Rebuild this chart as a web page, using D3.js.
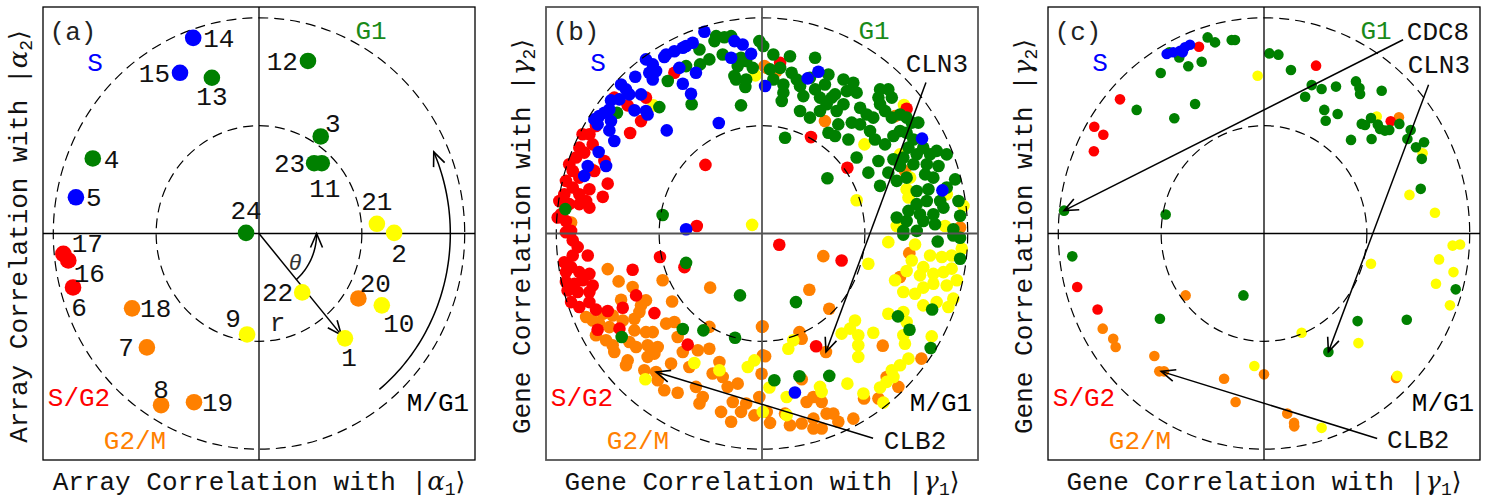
<!DOCTYPE html>
<html>
<head>
<meta charset="utf-8">
<script src="https://cdn.jsdelivr.net/npm/d3@7"></script>
<style>
body { margin: 0; background: #fff; }
text { font-family: "Liberation Mono", "DejaVu Sans Mono", monospace; }
</style>
</head>
<body>
<script>
// ---- data -----------------------------------------------------------

var phases = ["G1", "S", "S/G2", "G2/M", "M/G1"];
var phaseColors = ["#008000", "#0000ff", "#ff0000", "#ff8000", "#ffff00"];

// panel (a): arrays
var arrayIds   = ["1","2","3","4","5","6","7","8","9","10","11","12","13","14","15","16","17","18","19","20","21","22","23","24"];
var arrayCorr1 = [0.418,0.657,0.30,-0.808,-0.89,-0.904,-0.545,-0.476,-0.058,0.597,0.305,0.238,-0.229,-0.32,-0.384,-0.927,-0.951,-0.617,-0.316,0.483,0.573,0.21,0.268,-0.063];
var arrayCorr2 = [-0.486,0.003,0.45,0.348,0.168,-0.25,-0.528,-0.796,-0.468,-0.333,0.326,0.80,0.722,0.907,0.745,-0.125,-0.094,-0.347,-0.782,-0.301,0.045,-0.273,0.326,0.003];
var arrayPhase = ["M/G1","M/G1","G1","G1","S","S/G2","G2/M","G2/M","M/G1","M/G1","G1","G1","G1","S","S","S/G2","S/G2","G2/M","G2/M","G2/M","M/G1","M/G1","G1","G1"];

// panel (b): all genes, [corr with gamma1, corr with gamma2]
var genesG2M = [[-0.823,0.295],[-0.928,0.051],[0.012,0.776],[0.023,0.768],[0.071,0.753],[0.306,0.521],[0.647,0.544],[0.695,0.29],[0.668,0.329],[0.963,0.028],
  [-0.75,-0.165],[-0.697,-0.222],[-0.629,-0.248],[-0.564,-0.31],[-0.588,-0.333],[-0.685,-0.307],[-0.726,-0.38],[-0.774,-0.372],[-0.855,-0.387],[-0.823,-0.403],
  [-0.791,-0.418],[-0.742,-0.434],[-0.677,-0.403],[-0.62,-0.395],[-0.596,-0.364],[-0.483,-0.217],[-0.437,-0.315],[-0.252,-0.251],[-0.807,-0.472],[-0.758,-0.495],
  [-0.726,-0.518],[-0.718,-0.549],[-0.645,-0.503],[-0.612,-0.526],[-0.556,-0.518],[-0.507,-0.526],[-0.564,-0.457],[-0.531,-0.457],[-0.62,-0.449],[-0.466,-0.418],
  [-0.426,-0.41],[-0.41,-0.48],[-0.653,-0.588],[-0.661,-0.611],[-0.556,-0.572],[-0.523,-0.557],[-0.442,-0.603],[-0.385,-0.549],[-0.312,-0.541],[-0.256,-0.534],
  [-0.207,-0.596],[-0.353,-0.619],[-0.572,-0.634],[-0.507,-0.68],[-0.475,-0.727],[-0.41,-0.738],[-0.321,-0.711],[-0.288,-0.758],[-0.304,-0.788],[-0.24,-0.649],
  [-0.191,-0.665],[-0.167,-0.711],[-0.118,-0.696],[-0.142,-0.781],[-0.077,-0.788],[-0.037,-0.843],[-0.102,-0.827],[-0.199,-0.827],[-0.15,-0.873],[-0.013,-0.758],
  [0.0,-0.433],[0.004,-0.565],[-0.256,-0.433],[-0.515,-0.642],
  [0.298,-0.105],[0.23,-0.261],[0.327,-0.349],[0.003,-0.43],[0.182,-0.457],[0.193,-0.488],[0.311,-0.549],[0.015,-0.569],[-0.002,-0.65],[0.193,-0.676],
  [0.587,-0.52],[0.775,-0.58],[0.716,-0.091],[0.671,-0.202],[0.663,-0.711],[0.606,-0.665],[0.566,-0.765],[0.217,-0.781],[0.25,-0.758],[0.29,-0.781],
  [0.023,-0.827],[0.039,-0.878],[0.136,-0.889],[0.193,-0.881],[0.25,-0.858],[0.25,-0.904],[0.29,-0.904],[0.314,-0.835],[0.371,-0.873],[0.444,-0.858],
  [0.347,-0.835],[0.496,-0.765],[0.112,-0.835]];
var genesMG1 = [[-0.528,0.594],[-0.032,0.733],[-0.048,0.04],[0.69,0.596],[0.498,0.413],[0.671,0.367],[0.72,0.259],[0.703,0.205],[0.712,0.167],[0.46,0.154],
  [0.898,0.182],[0.979,0.128],[0.655,0.035],[0.89,0.035],[-0.567,-0.676],[-0.329,-0.6],[-0.207,-0.634],[-0.069,-0.619],[-0.037,-0.588],[0.004,-0.827],
  [0.614,-0.04],[0.744,-0.051],[0.817,-0.102],[0.874,-0.109],[0.922,-0.102],[0.971,-0.071],[0.728,-0.125],[0.784,-0.156],[0.703,-0.174],[0.647,-0.217],
  [0.768,-0.194],[0.833,-0.187],[0.882,-0.179],[0.922,-0.163],[0.947,-0.217],[0.898,-0.241],[0.833,-0.233],[0.784,-0.251],[0.687,-0.271],[0.744,-0.279],
  [0.849,-0.318],[0.93,-0.302],[0.906,-0.341],[0.784,-0.333],[0.614,-0.372],[0.687,-0.364],[0.703,-0.41],[0.452,-0.403],[0.428,-0.441],[0.387,-0.464],
  [0.468,-0.472],[0.541,-0.46],[0.468,-0.518],[0.468,-0.572],[0.695,-0.511],[0.687,-0.472],[0.825,-0.477],[0.152,-0.495],[0.128,-0.534],[0.517,-0.14],
  [0.712,-0.58],[0.671,-0.611],[0.631,-0.634],[0.639,-0.665],[0.606,-0.688],[0.574,-0.714],[0.59,-0.784],[0.493,-0.742],[0.415,-0.696],[0.282,-0.711],
  [0.29,-0.734],[0.12,-0.758],[0.036,-0.714],[0.12,-0.842]];
var genesSG2 = [[-0.426,0.745],[-0.564,0.63],[-0.653,0.594],[-0.718,0.63],[-0.588,0.521],[-0.641,0.466],[-0.807,0.498],[-0.839,0.46],[-0.872,0.46],[-0.823,0.413],
  [-0.888,0.398],[-0.864,0.375],[-0.904,0.352],[-0.937,0.321],[-0.92,0.29],[-0.888,0.259],[-0.953,0.244],[-0.92,0.213],[-0.888,0.182],[-0.961,0.182],
  [-0.985,0.151],[-0.937,0.136],[-0.888,0.136],[-0.839,0.12],[-0.977,0.089],[-0.953,0.058],[-0.993,0.074],[-0.855,0.151],[-0.839,0.205],[-0.75,0.231],
  [-0.774,0.17],[-0.766,0.336],[-0.815,0.29],[-0.275,0.318],[-0.317,0.035],[-0.928,0.012],
  [0.088,0.791],[0.238,0.447],[0.415,0.305],[0.703,0.578],
  [-0.953,0.006],[-0.92,-0.032],[-0.896,-0.063],[-0.847,-0.102],[-0.961,-0.133],[-0.92,-0.102],[-0.928,-0.156],[-0.888,-0.179],[-0.953,-0.179],[-0.839,-0.187],
  [-0.872,-0.217],[-0.953,-0.225],[-0.912,-0.233],[-0.823,-0.241],[-0.945,-0.264],[-0.896,-0.271],[-0.839,-0.271],[-0.928,-0.318],[-0.888,-0.341],[-0.839,-0.318],
  [-0.807,-0.353],[-0.75,-0.359],[-0.677,-0.344],[-0.629,-0.168],[-0.612,-0.287],[-0.523,-0.369],[-0.496,-0.109],[-0.377,-0.156],[-0.799,-0.446],[-0.693,-0.441],
  [-0.361,-0.515],[0.084,-0.052],[0.387,-0.125],[0.263,-0.523]];
var genesG1 = [[-0.499,0.586],[-0.705,0.56],[-0.458,0.707],[-0.369,0.776],[-0.301,0.784],[-0.304,0.853],[-0.256,0.807],[-0.223,0.915],[-0.183,0.91],[-0.15,0.915],
  [-0.231,0.892],[-0.191,0.83],[-0.118,0.776],[-0.077,0.8],[-0.045,0.768],[-0.102,0.815],[-0.134,0.73],[-0.077,0.714],[-0.081,0.679],[-0.126,0.714],
  [-0.102,0.594],[-0.342,0.599],[-0.483,0.086],[-0.956,0.113],[-0.013,0.892],
  [0.006,0.869],[0.055,0.83],[0.136,0.822],[0.258,0.815],[0.039,0.761],[0.088,0.768],[0.144,0.745],[0.169,0.714],[0.104,0.691],[0.055,0.714],
  [0.185,0.683],[0.233,0.722],[0.323,0.737],[0.306,0.691],[0.258,0.668],[0.104,0.653],[0.096,0.614],[0.201,0.637],[0.282,0.63],[0.339,0.63],
  [0.396,0.714],[0.444,0.699],[0.412,0.66],[0.355,0.645],[0.396,0.599],[0.46,0.653],[0.574,0.668],[0.614,0.668],[0.631,0.63],[0.566,0.63],
  [0.185,0.568],[0.233,0.537],[0.282,0.568],[0.314,0.599],[0.363,0.568],[0.477,0.583],[0.509,0.552],[0.541,0.537],[0.436,0.514],[0.477,0.506],
  [0.371,0.506],[0.323,0.467],[0.355,0.452],[0.42,0.436],[0.574,0.599],[0.598,0.568],[0.631,0.537],[0.671,0.552],[0.703,0.537],[0.728,0.514],
  [0.76,0.514],[0.525,0.475],[0.549,0.436],[0.598,0.413],[0.639,0.452],[0.671,0.475],[0.703,0.467],[0.736,0.436],[0.112,0.444],[0.566,0.336],
  [0.614,0.282],[0.639,0.344],[0.687,0.352],[0.712,0.398],[0.752,0.367],[0.784,0.398],[0.817,0.367],[0.849,0.383],[0.898,0.367],[0.671,0.313],
  [0.736,0.321],[0.801,0.321],[0.858,0.313],[0.46,0.352],[0.517,0.282],[0.655,0.244],[0.703,0.259],[0.318,0.256],[0.574,0.221],[0.793,0.274],
  [0.833,0.259],[0.939,0.251],[0.898,0.213],[0.752,0.197],[0.809,0.205],[0.866,0.151],[0.801,0.151],[0.752,0.136],[0.712,0.105],[0.768,0.089],
  [0.833,0.089],[0.655,0.074],[0.703,0.058],[0.784,0.058],[0.841,0.043],[0.955,0.151],[0.963,0.082],[0.687,0.012],[0.752,0.012],[0.93,0.02],[0.882,0.12],
  [-0.369,-0.136],[-0.107,-0.287],[-0.385,-0.443],[-0.285,-0.449],[-0.131,-0.483],[-0.682,-0.48],
  [0.165,-0.318],[0.06,-0.68],[0.182,-0.662],[0.327,-0.66],[0.661,-0.384],[0.717,-0.446],[0.82,-0.531],[0.827,-0.352],[0.963,-0.117],[0.854,-0.037],
  [0.687,-0.005],[0.93,-0.009],[0.963,-0.02]];
var genesS = [[-0.28,0.935],[-0.337,0.884],[-0.385,0.861],[-0.426,0.845],[-0.466,0.83],[-0.475,0.818],[-0.369,0.869],[-0.134,0.892],[-0.094,0.876],[-0.15,0.815],
  [-0.053,0.833],[-0.564,0.807],[-0.531,0.784],[-0.515,0.753],[-0.548,0.745],[-0.531,0.714],[-0.616,0.727],[-0.402,0.768],[-0.321,0.745],[-0.385,0.694],
  [-0.345,0.648],[-0.685,0.691],[-0.661,0.668],[-0.645,0.645],[-0.588,0.645],[-0.693,0.622],[-0.734,0.617],[-0.742,0.575],[-0.766,0.56],[-0.791,0.545],
  [-0.815,0.529],[-0.799,0.506],[-0.734,0.521],[-0.62,0.571],[-0.564,0.568],[-0.556,0.552],[-0.742,0.478],[-0.718,0.429],[-0.463,0.478],[-0.21,0.512],
  [-0.794,0.378],[-0.758,0.313],[-0.847,0.313],[-0.864,0.267],[-0.369,0.02],
  [0.015,0.684],[0.222,0.719],[0.274,0.75],[0.778,0.44],[0.877,0.2],[0.16,-0.737]];

// panel (c): cell-cycle regulators
var regG2M = [[0.656,0.539],[-0.784,-0.441],[-0.733,-0.488],[-0.721,-0.526],[-0.381,-0.287],[-0.533,-0.568],[-0.509,-0.639],[-0.486,-0.639],[-0.194,-0.673],[0,-0.653],
  [-0.138,-0.781],[0.113,-0.835],[0.146,-0.878],[0.147,-0.894],[0.642,-0.67]];
var regMG1 = [[-0.031,0.731],[0.548,0.542],[0.771,0.372],[0.707,0.179],[0.831,0.096],[0.52,-0.14],[0.851,-0.12],[0.917,-0.056],[0.953,-0.051],[0.921,-0.179],
  [0.836,-0.233],[0.904,-0.333],[0.183,-0.46],[0.459,-0.508],[-0.047,-0.614],[0.648,-0.66],[0.28,-0.901]];
var regSG2 = [[-0.316,0.866],[0.253,0.778],[-0.70,0.622],[-0.825,0.495],[-0.781,0.458],[-0.827,0.381],[0.616,0.52],[-0.908,-0.248],[-0.809,-0.352]];
var regG1 = [[-0.274,0.909],[-0.238,0.886],[-0.157,0.897],[-0.141,0.897],[-0.412,0.816],[-0.46,0.84],[-0.368,0.775],[-0.303,0.796],[-0.502,0.744],[-0.335,0.6],
  [-0.619,0.573],[-0.436,0.534],[0.026,0.835],[0.07,0.829],[0.131,0.758],[0.232,0.688],[0.28,0.67],[0.2,0.634],[0.35,0.681],[0.447,0.705],
  [0.464,0.674],[0.467,0.647],[0.572,0.662],[0.293,0.573],[0.3,0.523],[0.358,0.554],[0.423,0.434],[0.475,0.508],[0.491,0.503],[0.52,0.535],
  [0.523,0.438],[0.553,0.505],[0.564,0.485],[0.588,0.477],[0.609,0.48],[0.658,0.508],[0.713,0.48],[0.697,0.438],[0.739,0.4],[0.778,0.423],
  [0.767,0.346],[0.762,0.207],[-0.972,0.106],[-0.478,0.088],
  [-0.932,-0.106],[-0.1,-0.287],[-0.506,-0.395],[0.455,-0.406],[0.694,-0.4],[0.932,-0.259],[0.313,-0.549]];
var regS = [[-0.473,0.832],[-0.441,0.84],[-0.408,0.847],[-0.384,0.863],[-0.36,0.875],[-0.395,0.84]];

// named genes: label, label position, arrow start, arrow end
var namedB = [
  {name: "CLN3", at: [0.85, 0.79], from: [0.797, 0.70], to: [0.311, -0.549]},
  {name: "CLB2", at: [0.744, -0.958], from: [0.54, -0.949], to: [-0.515, -0.642]}
];
var namedC = [
  {name: "CDC8", at: [0.846, 0.94], from: [0.676, 0.898], to: [-0.972, 0.106]},
  {name: "CLN3", at: [0.85, 0.787], from: [0.80, 0.69], to: [0.313, -0.549]},
  {name: "CLB2", at: [0.75, -0.95], from: [0.55, -0.95], to: [-0.50, -0.639]}
];

// ---- layout ---------------------------------------------------------
var W = 432, H = 453, top0 = 7;
var lefts = [43, 546, 1048];
var fontSize = 26;

var x = d3.scaleLinear().domain([-1.05, 1.05]).range([0, W]);
var y = d3.scaleLinear().domain([-1.05, 1.05]).range([H, 0]);

var svg = d3.select("body").append("svg").attr("width", 1491).attr("height", 499);

var defs = svg.append("defs");
defs.append("marker").attr("id", "vhead")
    .attr("viewBox", "-16 -8 18 16").attr("refX", 0).attr("refY", 0)
    .attr("markerWidth", 18).attr("markerHeight", 16)
    .attr("markerUnits", "userSpaceOnUse").attr("orient", "auto")
  .append("path").attr("d", "M-14,-6L0,0L-14,6")
    .attr("fill", "none").attr("stroke", "#000").attr("stroke-width", 1.6);

// phase labels: position inside the box (px from box corner), text colour
var phaseLabels = [
  {t: "S", px: 52, py: 55, c: "#0000ff"},
  {t: "G1", px: 328, py: 23, c: "#1a8a1a"},
  {t: "S/G2", px: 36, py: 390, c: "#ff0000"},
  {t: "G2/M", px: 92, py: 433, c: "#ff8000"},
  {t: "M/G1", px: 395, py: 395, c: "#000"}
];

function colorOf(ph) { return phaseColors[phases.indexOf(ph)]; }

function arcPts(r, a0, a1) {
  return d3.range(0, 61).map(function(i) {
    var a = (a0 + (a1 - a0) * i / 60) * Math.PI / 180;
    return [x(r * Math.cos(a)), y(r * Math.sin(a))];
  });
}
var line = d3.line();

function frame(g, stroke, sw) {
  // dashed unit and half circles
  [1, 0.5].forEach(function(r) {
    g.append("ellipse")
      .attr("cx", x(0)).attr("cy", y(0))
      .attr("rx", x(r) - x(0)).attr("ry", y(0) - y(r))
      .attr("fill", "none").attr("stroke", "#000").attr("stroke-width", 1.2)
      .attr("stroke-dasharray", "10,6");
  });
  g.append("line").attr("x1", x(-1.05)).attr("x2", x(1.05)).attr("y1", y(0)).attr("y2", y(0))
    .attr("stroke", stroke).attr("stroke-width", sw);
  g.append("line").attr("x1", x(0)).attr("x2", x(0)).attr("y1", y(-1.05)).attr("y2", y(1.05))
    .attr("stroke", stroke).attr("stroke-width", sw);
  g.append("rect").attr("x", 0).attr("y", 0).attr("width", W).attr("height", H)
    .attr("fill", "none").attr("stroke", stroke).attr("stroke-width", sw);
}

function texts(g, tag, sym) {
  g.append("text").attr("x", 30).attr("y", 24).attr("dy", "0.35em")
    .attr("text-anchor", "middle").attr("font-size", fontSize).attr("fill", "#222").text(tag);
  phaseLabels.forEach(function(p) {
    g.append("text").attr("x", p.px).attr("y", p.py).attr("dy", "0.35em")
      .attr("text-anchor", "middle").attr("font-size", fontSize).attr("fill", p.c).text(p.t);
  });
  var word = sym === "α" ? "Array" : "Gene";
  // x axis title
  var tx = g.append("text").attr("x", W / 2).attr("y", H + 30)
    .attr("text-anchor", "middle").attr("font-size", fontSize).attr("fill", "#111");
  ket(tx, word + " Correlation with |", sym, "1");
  var ty = g.append("text").attr("transform", "translate(-16," + (H / 2 + 3) + ") rotate(-90)")
    .attr("text-anchor", "middle").attr("font-size", fontSize).attr("fill", "#111");
  ket(ty, word + " Correlation with |", sym, "2");
}

function ket(t, pre, sym, sub) {
  t.append("tspan").text(pre);
  t.append("tspan").attr("font-family", "DejaVu Serif, serif").attr("font-style", "italic").text(sym);
  t.append("tspan").attr("font-size", 18).attr("dy", 5).text(sub);
  t.append("tspan").attr("dy", -5).attr("font-family", "DejaVu Sans, sans-serif").attr("font-size", 25).text("\u27E9");
}

function arrows(g, named) {
  named.forEach(function(n) {
    g.append("line").attr("x1", x(n.from[0])).attr("y1", y(n.from[1]))
      .attr("x2", x(n.to[0])).attr("y2", y(n.to[1]))
      .attr("stroke", "#000").attr("stroke-width", 1.5).attr("marker-end", "url(#vhead)");
    g.append("text").attr("x", x(n.at[0])).attr("y", y(n.at[1])).attr("dy", "0.35em")
      .attr("text-anchor", "middle").attr("font-size", fontSize).attr("fill", "#111").text(n.name);
  });
}

function dots(g, sets, r) {
  sets.forEach(function(s) {
    g.append("g").selectAll("circle").data(s.pts).enter().append("circle")
      .attr("cx", function(d) { return x(d[0]); })
      .attr("cy", function(d) { return y(d[1]); })
      .attr("r", r).attr("fill", colorOf(s.ph));
  });
}

// ---- panel (a) ------------------------------------------------------
var ga = svg.append("g").attr("transform", "translate(" + lefts[0] + "," + top0 + ")");
frame(ga, "#000", 1.3);

// label placement for each array: [dx, dy, anchor]
var labelPos = {
  "14": [10, 0, "start"], "15": [-10, 0, "end"], "13": [0, 18, "middle"], "12": [-10, 0, "end"],
  "3": [12, -14, "middle"], "23": [-9, 0, "end"], "11": [3, 25, "middle"], "4": [11, 0, "start"],
  "5": [10, 0, "start"], "24": [0, -23, "middle"], "21": [0, -23, "middle"], "2": [5, 20, "middle"],
  "17": [24, -11, "middle"], "16": [21, 12, "middle"], "6": [6, 19, "middle"], "18": [8, 0, "start"],
  "7": [-13, 0, "end"], "8": [0, -16, "middle"], "19": [8, 0, "start"], "9": [-14, -17, "middle"],
  "22": [-9, 0, "end"], "20": [17, -16, "middle"], "10": [17, 18, "middle"], "1": [4, 19, "middle"]
};

// solid arc showing the direction of the cycle, and the r / theta sketch
ga.append("path").attr("d", line(arcPts(0.93, -51, 24)))
  .attr("fill", "none").attr("stroke", "#000").attr("stroke-width", 1.5).attr("marker-end", "url(#vhead)");
ga.append("path").attr("d", line(arcPts(0.28, -50, 0)))
  .attr("fill", "none").attr("stroke", "#000").attr("stroke-width", 1.5).attr("marker-end", "url(#vhead)");
ga.append("line").attr("x1", x(0)).attr("y1", y(0)).attr("x2", x(0.40)).attr("y2", y(-0.47))
  .attr("stroke", "#000").attr("stroke-width", 1.5).attr("marker-end", "url(#vhead)");
ga.append("text").attr("x", x(0.175)).attr("y", y(-0.135)).attr("dy", "0.35em").attr("text-anchor", "middle")
  .attr("font-family", "DejaVu Serif, serif").attr("font-style", "italic").attr("font-size", 22).attr("fill", "#333").text("\u03B8");
ga.append("text").attr("x", x(0.09)).attr("y", y(-0.41)).attr("dy", "0.35em").attr("text-anchor", "middle")
  .attr("font-size", fontSize).attr("fill", "#222").text("r");

ga.append("g").selectAll("circle").data(arrayIds).enter().append("circle")
  .attr("cx", function(d, i) { return x(arrayCorr1[i]); })
  .attr("cy", function(d, i) { return y(arrayCorr2[i]); })
  .attr("r", 8.3)
  .attr("fill", function(d, i) { return colorOf(arrayPhase[i]); });

ga.append("g").selectAll("text").data(arrayIds).enter().append("text")
  .attr("x", function(d, i) { return x(arrayCorr1[i]) + labelPos[d][0]; })
  .attr("y", function(d, i) { return y(arrayCorr2[i]) + labelPos[d][1]; })
  .attr("dy", "0.35em")
  .attr("text-anchor", function(d) { return labelPos[d][2]; })
  .attr("font-size", fontSize).attr("fill", "#111")
  .text(function(d) { return d; });

texts(ga, "(a)", "α");

// ---- panel (b) ------------------------------------------------------
var gb = svg.append("g").attr("transform", "translate(" + lefts[1] + "," + top0 + ")");
dots(gb, [
  {ph: "G2/M", pts: genesG2M}, {ph: "M/G1", pts: genesMG1}, {ph: "S/G2", pts: genesSG2},
  {ph: "G1", pts: genesG1}, {ph: "S", pts: genesS}
], 6.3);
frame(gb, "#555", 1.8);
arrows(gb, namedB);
texts(gb, "(b)", "γ");

// ---- panel (c) ------------------------------------------------------
var gc = svg.append("g").attr("transform", "translate(" + lefts[2] + "," + top0 + ")");
dots(gc, [
  {ph: "G2/M", pts: regG2M}, {ph: "M/G1", pts: regMG1}, {ph: "S/G2", pts: regSG2},
  {ph: "G1", pts: regG1}, {ph: "S", pts: regS}
], 5.3);
frame(gc, "#000", 1.3);
arrows(gc, namedC);
texts(gc, "(c)", "γ");
</script>
</body>
</html>
